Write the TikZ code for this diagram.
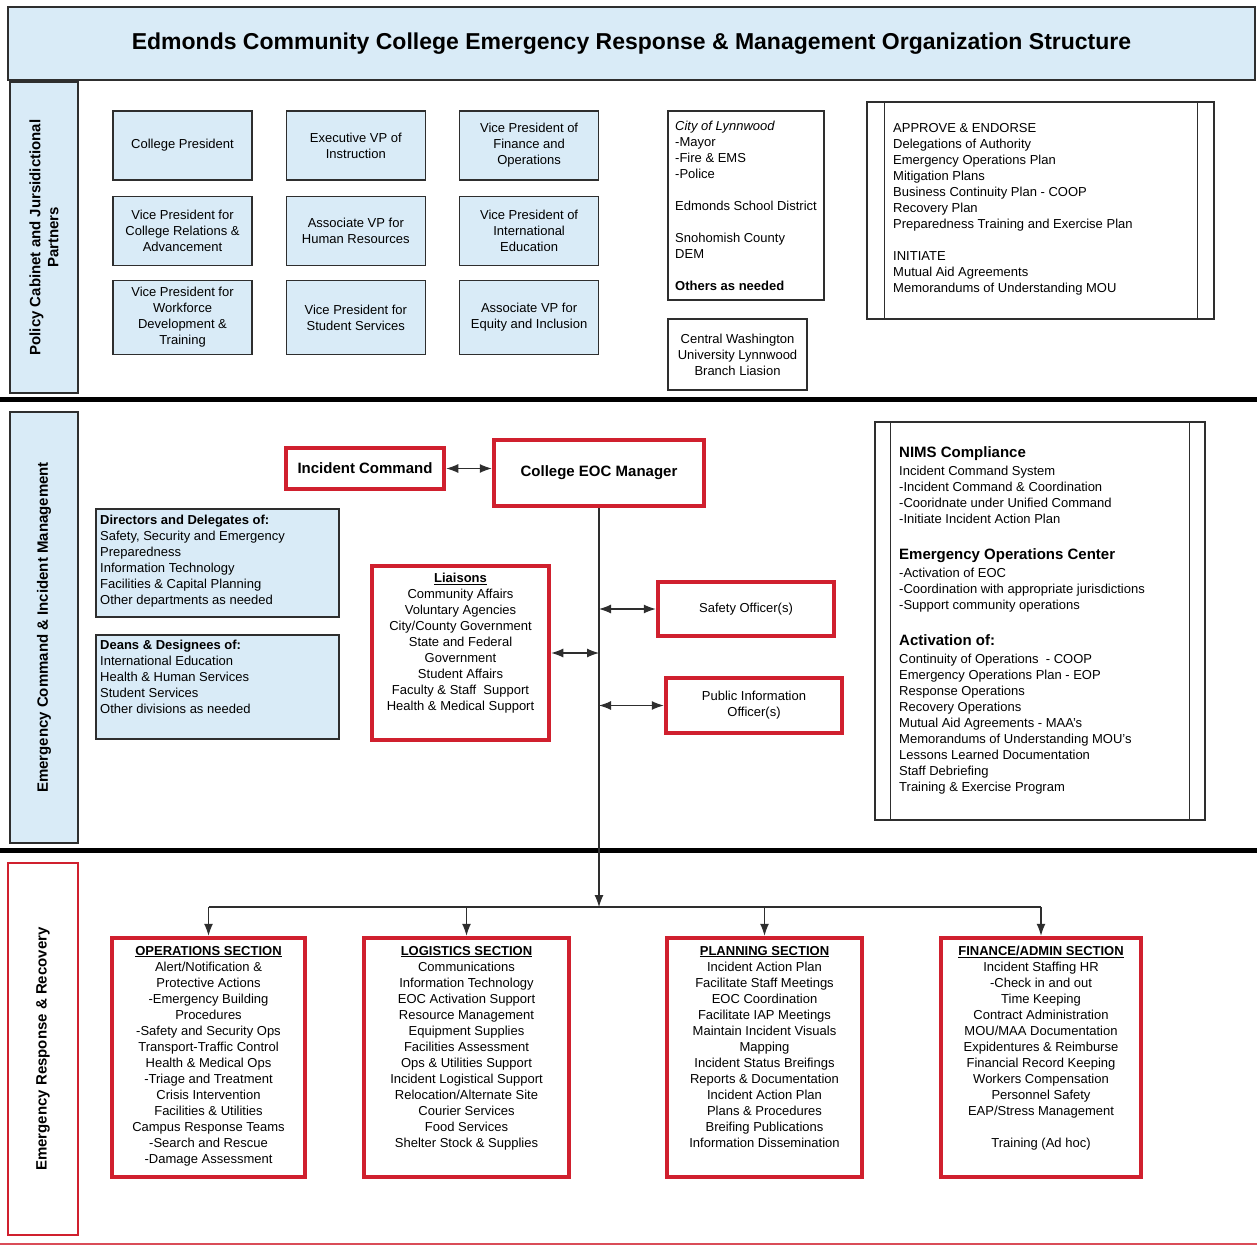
\documentclass[tikz,border=0pt]{standalone}
\usepackage{fontspec}
\setmainfont{Liberation Sans}
\usetikzlibrary{arrows.meta,positioning}
\definecolor{PaleBlue}{HTML}{D9EBF7}
\definecolor{CmdRed}{HTML}{D0202E}
\definecolor{EdgeGray}{HTML}{2E2E2E}
\newcommand{\bodyfont}{\fontsize{13}{16}\selectfont}
\newcommand{\headfont}{\fontsize{15}{18}\selectfont\bfseries}
\tikzset{
  bluebox/.style={draw=EdgeGray, fill=PaleBlue, line width=1.3pt, inner sep=0pt, align=center, font=\bodyfont},
  cabbox/.style={bluebox, minimum width=139pt, minimum height=69pt},
  plainbox/.style={draw=EdgeGray, fill=white, line width=1.3pt, inner sep=0pt, font=\bodyfont},
  redbox/.style={draw=CmdRed, fill=white, line width=4.5pt, inner sep=0pt, align=center, font=\bodyfont},
  sectbox/.style={redbox, minimum height=239pt},
  bodytxt/.style={inner sep=0pt, font=\bodyfont},
  sidelabel/.style={rotate=90, align=center, inner sep=0pt, font=\headfont},
  arr/.style={-{Latex[length=12pt,width=9pt]}, line width=1.1pt, draw=EdgeGray},
  dblarr/.style={{Latex[length=12pt,width=9pt]}-{Latex[length=12pt,width=9pt]}, line width=1.1pt, draw=EdgeGray},
  link/.style={line width=1.1pt, draw=EdgeGray}
}
\begin{document}
\begin{tikzpicture}[x=1pt,y=-1pt]
\useasboundingbox (0,0) rectangle (1257,1246);
% title band
\node[bluebox, minimum width=1247pt, minimum height=73pt, font=\fontsize{23}{27}\selectfont\bfseries] (title) at (631.5,43.5)
  {Edmonds Community College Emergency Response \& Management Organization Structure};
% side bands
\node[bluebox, minimum width=68pt, minimum height=311pt] (polband) at (44,237.5) {};
\node[sidelabel] (pollab) at (polband.center) {Policy Cabinet and Jursidictional\\Partners};
\node[bluebox, minimum width=68pt, minimum height=431pt] (emcband) at (44,627.5) {};
\node[sidelabel] (emclab) at (emcband.center) {Emergency Command \& Incident Management};
\node[draw=CmdRed, line width=2pt, fill=white, minimum width=70pt, minimum height=372pt] (errband) at (43,1049) {};
\node[sidelabel] (errlab) at (errband.center) {Emergency Response \& Recovery};
% separators
\draw[line width=5pt, black] (0,399) -- (1257,399);
\draw[line width=5pt, black] (0,850) -- (1257,850);
\draw[line width=1.5pt, CmdRed!80] (0,1244) -- (1257,1244);

% policy cabinet
\node[cabbox] (pres) at (182.5,145.5) {College President};
\node[cabbox, right=33pt of pres] (evp) {Executive VP of\\Instruction};
\node[cabbox, right=33pt of evp] (vpfin) {Vice President of\\Finance and\\Operations};
\node[cabbox, below=15pt of pres] (vpcra) {Vice President for\\College Relations \&\\Advancement};
\node[cabbox, below=15pt of evp] (avphr) {Associate VP for\\Human Resources};
\node[cabbox, below=15pt of vpfin] (vpint) {Vice President of\\International\\Education};
\node[cabbox, minimum height=74pt, below=14pt of vpcra] (vpwfd) {Vice President for\\Workforce\\Development \&\\Training};
\node[cabbox, minimum height=74pt, below=14pt of avphr] (vpss) {Vice President for\\Student Services};
\node[cabbox, minimum height=74pt, below=14pt of vpint] (avpei) {Associate VP for\\Equity and Inclusion};

% jurisdictional partners
\node[plainbox, align=left, minimum width=156pt, minimum height=189pt] (city) at (746,205.5)
  {\textit{City of Lynnwood}\\-Mayor\\-Fire \& EMS\\-Police\\[16pt]Edmonds School District\\[16pt]Snohomish County\\DEM\\[16pt]\textbf{Others as needed}};
\node[plainbox, align=center, minimum width=139pt, minimum height=71pt] (cwu) at (737.5,354.5)
  {Central Washington\\University Lynnwood\\Branch Liasion};
\node[plainbox, minimum width=347pt, minimum height=217pt] (apr) at (1040.5,210.5) {};
\draw[link] ([xshift=18pt]apr.north west) -- ([xshift=18pt]apr.south west);
\draw[link] ([xshift=-17pt]apr.north east) -- ([xshift=-17pt]apr.south east);
\node[bodytxt, align=left, anchor=north west] (aprtxt) at (893,123)
  {APPROVE \& ENDORSE\\Delegations of Authority\\Emergency Operations Plan\\Mitigation Plans\\Business Continuity Plan - COOP\\Recovery Plan\\Preparedness Training and Exercise Plan\\[16pt]INITIATE\\Mutual Aid Agreements\\Memorandums of Understanding MOU};

% command and incident management
\node[redbox, minimum width=158pt, minimum height=41pt, font=\headfont] (inc) at (365,468.5) {Incident Command};
\node[redbox, minimum width=210pt, minimum height=66pt, font=\headfont] (eoc) at (599,473) {College EOC Manager};
\draw[dblarr] (inc.east) -- (inc.east -| eoc.west);

\node[bluebox, minimum width=243pt, minimum height=108pt] (dirs) at (217.5,563) {};
\node[bodytxt, align=left, anchor=north west] (dirstxt) at (100,515)
  {\textbf{Directors and Delegates of:}\\Safety, Security and Emergency\\Preparedness\\Information Technology\\Facilities \& Capital Planning\\Other departments as needed};
\node[bluebox, minimum width=243pt, minimum height=104pt] (deans) at (217.5,687) {};
\node[bodytxt, align=left, anchor=north west] (deanstxt) at (100,640)
  {\textbf{Deans \& Designees of:}\\International Education\\Health \& Human Services\\Student Services\\Other divisions as needed};

\node[redbox, minimum width=177pt, minimum height=174pt] (lia) at (460.5,653) {};
\node[bodytxt, align=center, anchor=north] (liatxt) at (460.5,573)
  {\underline{\textbf{Liaisons}}\\Community Affairs\\Voluntary Agencies\\City/County Government\\State and Federal\\Government\\Student Affairs\\Faculty \& Staff\ \ Support\\Health \& Medical Support};
\node[redbox, minimum width=176pt, minimum height=54pt] (saf) at (746,609) {Safety Officer(s)};
\node[redbox, minimum width=176pt, minimum height=55pt] (pio) at (754,705.5) {Public Information\\Officer(s)};

\node[plainbox, minimum width=330pt, minimum height=398pt] (nims) at (1040,621) {};
\draw[link] ([xshift=16pt]nims.north west) -- ([xshift=16pt]nims.south west);
\draw[link] ([xshift=-16pt]nims.north east) -- ([xshift=-16pt]nims.south east);
\node[bodytxt, align=left, anchor=north west] (nimstxt) at (899,446)
  {{\headfont NIMS Compliance}\\[2pt]Incident Command System\\-Incident Command \& Coordination\\-Cooridnate under Unified Command\\-Initiate Incident Action Plan\\[20pt]
   {\headfont Emergency Operations Center}\\[2pt]-Activation of EOC\\-Coordination with appropriate jurisdictions\\-Support community operations\\[20pt]
   {\headfont Activation of:}\\[2pt]Continuity of Operations\ \ - COOP\\Emergency Operations Plan - EOP\\Response Operations\\Recovery Operations\\Mutual Aid Agreements - MAA's\\Memorandums of Understanding MOU's\\Lessons Learned Documentation\\Staff Debriefing\\Training \& Exercise Program};

% response and recovery sections
\node[sectbox, minimum width=193pt] (ops) at (208.5,1057.5) {};
\node[sectbox, minimum width=205pt] (logi) at (466.5,1057.5) {};
\node[sectbox, minimum width=195pt] (plan) at (764.5,1057.5) {};
\node[sectbox, minimum width=200pt] (fin) at (1041,1057.5) {};
\node[bodytxt, align=center, anchor=north] (opstxt) at ([yshift=-10pt]ops.north)
  {\underline{\textbf{OPERATIONS SECTION}}\\Alert/Notification \&\\Protective Actions\\-Emergency Building\\Procedures\\-Safety and Security Ops\\Transport-Traffic Control\\Health \& Medical Ops\\-Triage and Treatment\\Crisis Intervention\\Facilities \& Utilities\\Campus Response Teams\\-Search and Rescue\\-Damage Assessment};
\node[bodytxt, align=center, anchor=north] (logitxt) at ([yshift=-10pt]logi.north)
  {\underline{\textbf{LOGISTICS SECTION}}\\Communications\\Information Technology\\EOC Activation Support\\Resource Management\\Equipment Supplies\\Facilities Assessment\\Ops \& Utilities Support\\Incident Logistical Support\\Relocation/Alternate Site\\Courier Services\\Food Services\\Shelter Stock \& Supplies};
\node[bodytxt, align=center, anchor=north] (plantxt) at ([yshift=-10pt]plan.north)
  {\underline{\textbf{PLANNING SECTION}}\\Incident Action Plan\\Facilitate Staff Meetings\\EOC Coordination\\Facilitate IAP Meetings\\Maintain Incident Visuals\\Mapping\\Incident Status Breifings\\Reports \& Documentation\\Incident Action Plan\\Plans \& Procedures\\Breifing Publications\\Information Dissemination};
\node[bodytxt, align=center, anchor=north] (fintxt) at ([yshift=-10pt]fin.north)
  {\underline{\textbf{FINANCE/ADMIN SECTION}}\\Incident Staffing HR\\-Check in and out\\Time Keeping\\Contract Administration\\MOU/MAA Documentation\\Expidentures \& Reimburse\\Financial Record Keeping\\Workers Compensation\\Personnel Safety\\EAP/Stress Management\\[16pt]Training (Ad hoc)};

% connectors
\coordinate (hub) at (eoc.south |- 0,907);
\draw[arr] (eoc.south) -- (hub);
\draw[dblarr] (saf.west -| eoc.south) -- (saf.west);
\draw[dblarr] (pio.west -| eoc.south) -- (pio.west);
\draw[dblarr] (lia.east) -- (lia.east -| eoc.south);
\draw[link] (ops.north |- hub) -- (fin.north |- hub);
\foreach \sect in {ops,logi,plan,fin}{
  \draw[arr] (\sect.north |- hub) -- (\sect.north);
}
\end{tikzpicture}
\end{document}
